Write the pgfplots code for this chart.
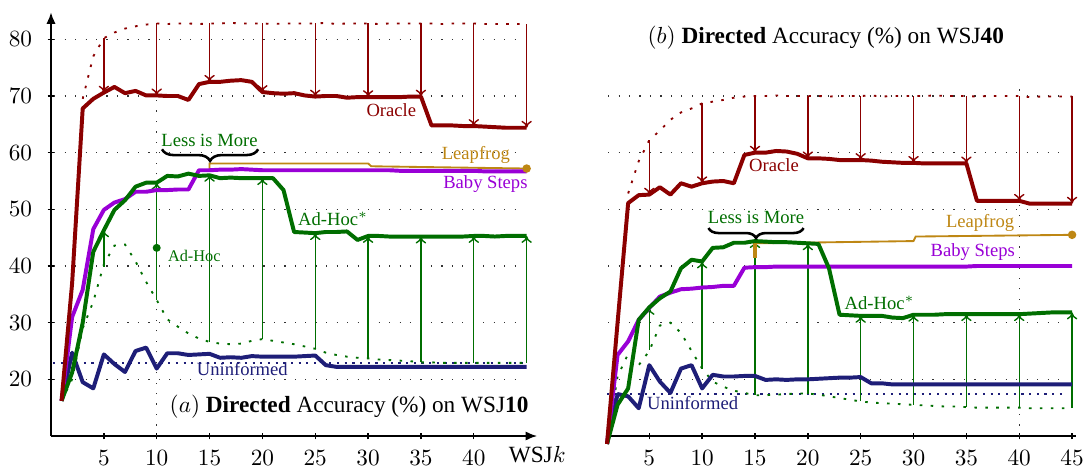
\documentclass[border=0pt]{standalone}
\usepackage{pgfplots}
\pgfplotsset{compat=1.18}
\usepackage{fontspec}
\setmainfont{Liberation Serif}
\usetikzlibrary{decorations.pathreplacing,arrows.meta}

\definecolor{orc}{RGB}{139,0,0}
\definecolor{bab}{RGB}{153,0,214}
\definecolor{adh}{RGB}{0,110,0}
\definecolor{uni}{RGB}{30,30,120}
\definecolor{lea}{RGB}{190,135,20}

\tikzset{
  gridl/.style={black!80, line width=0.5pt, dash pattern=on 0.5pt off 4pt},
  thk/.style={line width=1.7pt, line join=round},
  odot/.style={orc, line width=0.8pt, dash pattern=on 1.1pt off 3.6pt},
  gdot/.style={adh, line width=0.8pt, dash pattern=on 1.1pt off 3.6pt},
  bdot/.style={uni, line width=0.7pt, dash pattern=on 0.9pt off 2.4pt},
  arr/.style={line width=0.6pt, -{To[length=3pt,width=4.5pt]}},
  lab/.style={font=\footnotesize},
}

\pgfplotsset{
  common/.style={
    x=4.545pt, y=2.4367pt, ymin=10, ymax=84.8,
    clip=false, no markers,
    tick align=inside, major tick length=3pt,
    tick style={black, line width=0.6pt},
    xticklabel style={yshift=-1.0pt},
    yticklabel style={xshift=-3.1pt},
  }
}

\begin{document}
\begin{tikzpicture}
\path[use as bounding box] (-21.93pt,-13.76pt) rectangle (444.19pt,187.48pt);

%================ (a) WSJ10 ================
\begin{axis}[common,
  xmin=0, xmax=46,
  axis lines=left,
  axis line style={line width=0.9pt, -{Latex[length=5pt,width=4pt]}},
  xtick={5,10,...,40}, ytick={20,30,...,80},
  extra x ticks={46}, extra x tick labels={WSJ$k$},
  extra x tick style={major tick length=0pt},
]
\pgfplotsinvokeforeach{20,30,40,50,60,70,80}{\addplot[gridl] coordinates {(0.3,#1) (44.4,#1)};}
\addplot[gridl] coordinates {(10,10) (10,83.4)};
\addplot[bdot] coordinates {(0.2,22.9) (45,22.9)};

% Oracle upper bound (dotted)
\addplot[odot] coordinates {(3,69.5)(4,77.0)(5,80.2)(6,81.2)(7,81.9)(8,82.3)(9,82.6)(10,82.8)(11,82.7)(12,82.8)(13,82.8)(14,82.7)(15,82.8)(16,82.8)(17,82.9)(18,82.8)(19,82.8)(20,82.8)(21,82.7)(22,82.8)(23,82.8)(24,82.8)(25,82.8)(26,82.9)(27,82.7)(28,82.8)(29,82.8)(30,82.8)(31,82.7)(32,82.8)(33,82.8)(34,82.8)(35,82.8)(36,82.8)(37,82.7)(38,82.8)(39,82.8)(40,82.8)(41,82.7)(42,82.7)(43,82.7)(44,82.7)(45,82.7)};
% Ad-Hoc (dotted)
\addplot[gdot] coordinates {(1,16.2)(2,20.0)(3,29.0)(4,33.7)(5,40.3)(6,43.6)(7,43.8)(8,40.8)(9,37.2)(10,34.0)(11,30.6)(12,29.3)(13,28.1)(14,27.2)(15,26.6)(16,26.3)(17,26.2)(18,26.3)(19,26.8)(20,27.1)(21,26.8)(22,26.5)(23,26.2)(24,25.8)(25,25.4)(26,24.7)(27,24.3)(28,24.0)(29,23.8)(30,23.7)(31,23.5)(32,23.4)(33,23.3)(34,23.2)(35,23.0)(36,23.0)(37,22.9)(38,22.9)(39,22.9)(40,22.9)(41,22.9)(42,22.9)(43,22.9)(44,22.9)(45,22.9)};

% arrows
\addplot[orc, arr, quiver={u=0, v=\thisrow{y1}-\thisrow{y0}}] table[x=x, y=y0] {
x y0 y1
5 80.2 70.6
10 82.8 70.1
15 82.8 72.5
20 82.8 70.7
25 82.8 69.9
30 82.8 69.8
35 82.8 69.9
40 82.8 64.7
45 82.7 64.4
};
\addplot[adh, arr, quiver={u=0, v=\thisrow{y1}-\thisrow{y0}}] table[x=x, y=y0] {
x y0 y1
5 39.9 46.3
10 34.0 54.7
15 26.6 56.1
20 27.1 55.5
25 25.4 45.8
30 23.7 45.3
35 23.0 45.2
40 22.9 45.3
45 22.9 45.3
};

% Leapfrog
\addplot[lea, line width=0.8pt] coordinates {(15,56.9)(15,58.1)(30,58.1)(30.3,57.6)(45,57.2)};
\addplot[lea, only marks, mark=o, mark size=1.4pt, line width=0.8pt] coordinates {(45,57.2)};

% Uninformed
\addplot[uni, thk] coordinates {(1,16.2)(2,24.7)(3,19.5)(4,18.4)(5,24.4)(6,22.7)(7,21.3)(8,25.0)(9,25.6)(10,21.9)(11,24.6)(12,24.6)(13,24.3)(14,24.4)(15,24.5)(16,23.8)(17,23.9)(18,23.8)(19,24.1)(20,24.0)(21,24.0)(22,24.0)(23,24.0)(24,24.1)(25,24.2)(26,22.5)(27,22.2)(28,22.2)(29,22.2)(30,22.2)(31,22.2)(32,22.2)(33,22.2)(34,22.2)(35,22.2)(36,22.2)(37,22.2)(38,22.2)(39,22.2)(40,22.2)(41,22.2)(42,22.2)(43,22.2)(44,22.2)(45,22.2)};
% Baby Steps
\addplot[bab, thk] coordinates {(1,16.2)(2,31.0)(3,35.8)(4,46.5)(5,49.9)(6,51.2)(7,51.8)(8,53.1)(9,53.1)(10,53.4)(11,53.4)(12,53.5)(13,53.5)(14,56.9)(15,56.9)(16,57.0)(17,57.0)(18,57.1)(19,57.0)(20,56.9)(21,56.9)(22,56.9)(23,56.9)(24,56.9)(25,56.9)(26,56.9)(27,56.9)(28,56.9)(29,56.9)(30,56.9)(31,56.9)(32,56.9)(33,56.8)(34,56.8)(35,56.8)(36,56.8)(37,56.8)(38,56.8)(39,56.8)(40,56.8)(41,56.7)(42,56.7)(43,56.7)(44,56.7)(45,56.7)};
% Ad-Hoc*
\addplot[adh, thk] coordinates {(1,16.2)(2,21.2)(3,30.0)(4,42.5)(5,46.3)(6,49.9)(7,51.6)(8,54.0)(9,54.7)(10,54.7)(11,55.9)(12,55.8)(13,56.3)(14,55.9)(15,56.0)(16,55.5)(17,55.6)(18,55.5)(19,55.5)(20,55.5)(21,55.5)(22,53.4)(23,46.0)(24,45.9)(25,45.8)(26,46.0)(27,46.0)(28,46.1)(29,44.6)(30,45.3)(31,45.3)(32,45.2)(33,45.2)(34,45.2)(35,45.2)(36,45.2)(37,45.2)(38,45.2)(39,45.2)(40,45.3)(41,45.3)(42,45.2)(43,45.3)(44,45.3)(45,45.3)};
% Oracle
\addplot[orc, thk] coordinates {(1,16.2)(2,37.0)(3,67.8)(4,69.5)(5,70.6)(6,71.6)(7,70.5)(8,70.9)(9,70.1)(10,70.1)(11,70.0)(12,70.0)(13,69.3)(14,72.1)(15,72.5)(16,72.5)(17,72.7)(18,72.8)(19,72.5)(20,70.7)(21,70.5)(22,70.4)(23,70.5)(24,70.1)(25,69.9)(26,70.0)(27,70.0)(28,69.7)(29,69.8)(30,69.8)(31,69.8)(32,69.8)(33,69.8)(34,69.9)(35,69.9)(36,64.8)(37,64.8)(38,64.8)(39,64.7)(40,64.7)(41,64.6)(42,64.5)(43,64.4)(44,64.4)(45,64.4)};

% Ad-Hoc point
\addplot[adh, only marks, mark=*, mark size=1.5pt] coordinates {(10,43.2)};
\node[adh, font=\scriptsize, anchor=west] at (axis cs:10.3,41.8) {Ad-Hoc};

% brace
\draw[decorate, decoration={brace, amplitude=5pt}, line width=1.1pt] (axis cs:19.6,60.6) -- (axis cs:10.5,60.6);

\node[lab, text=orc] at (axis cs:32.2,67.5) {Oracle};
\node[lab, text=adh] at (axis cs:15.0,62.2) {Less is More};
\node[lab, text=lea] at (axis cs:40.2,59.6) {Leapfrog};
\node[lab, text=bab] at (axis cs:41.1,54.5) {Baby Steps};
\node[lab, text=adh] at (axis cs:26.7,48.3) {Ad-Hoc$^*$};
\node[lab, text=uni] at (axis cs:18.1,21.8) {Uninformed};
\node at (axis cs:28.2,15.2) {$(a)$ \textbf{Directed} Accuracy (\%) on WSJ\textbf{10}};
\end{axis}

%================ (b) WSJ40 ================
\begin{axis}[common,
  at={(239.08pt,0pt)}, anchor=south west,
  xmin=1, xmax=45.35,
  axis x line=bottom, axis y line=none,
  x axis line style={line width=0.9pt, -},
  xtick={5,10,...,45}, ytick=\empty,
]
\pgfplotsinvokeforeach{20,30,40,50,60,70}{\addplot[gridl] coordinates {(1.1,#1) (44.2,#1)};}
\addplot[gridl] coordinates {(40,10) (40,71.2)};
\addplot[bdot] coordinates {(1,17.4) (44.4,17.4)};

\addplot[odot] coordinates {(3,52.8)(4,58.5)(5,62.2)(6,63.9)(7,65.8)(8,67.1)(9,67.8)(10,68.7)(11,69.0)(12,69.3)(13,69.7)(14,69.9)(15,70.0)(16,70.0)(17,70.1)(18,70.0)(19,70.0)(20,70.0)(21,70.0)(22,69.9)(23,70.0)(24,70.0)(25,70.0)(26,70.1)(27,69.9)(28,70.0)(29,70.0)(30,70.0)(31,70.0)(32,70.1)(33,70.0)(34,70.0)(35,70.0)(36,69.9)(37,70.0)(38,70.0)(39,70.0)(40,70.0)(41,69.8)(42,69.9)(43,69.9)(44,69.9)(45,69.9)};
\addplot[gdot] coordinates {(1,8.6)(2,20.5)(3,24.5)(4,22.5)(5,25.0)(6,29.5)(7,30.0)(8,28.2)(9,25.0)(10,21.9)(11,19.6)(12,18.7)(13,18.0)(14,17.6)(15,17.2)(16,17.2)(17,17.3)(18,17.4)(19,17.5)(20,17.5)(21,17.3)(22,17.0)(23,16.7)(24,16.4)(25,16.1)(26,15.9)(27,15.8)(28,15.7)(29,15.6)(30,15.5)(31,15.4)(32,15.3)(33,15.2)(34,15.2)(35,15.1)(36,15.0)(37,15.0)(38,15.0)(39,15.0)(40,15.0)(41,14.9)(42,14.9)(43,14.9)(44,14.9)(45,14.9)};

\addplot[orc, arr, quiver={u=0, v=\thisrow{y1}-\thisrow{y0}}] table[x=x, y=y0] {
x y0 y1
5 62.2 52.6
10 68.7 54.6
15 70.0 60.0
20 70.0 59.0
25 70.0 58.7
30 70.0 58.2
35 70.0 58.1
40 70.0 51.5
45 70.0 51.0
};
\addplot[adh, arr, quiver={u=0, v=\thisrow{y1}-\thisrow{y0}}] table[x=x, y=y0] {
x y0 y1
5 25.2 32.6
10 21.9 40.8
15 17.2 44.4
20 17.5 44.0
25 16.1 31.2
30 15.5 31.4
35 15.1 31.5
40 15.0 31.5
45 14.9 31.8
};

\addplot[lea, line width=1.4pt] coordinates {(15,41.4)(15,44.0)};
\addplot[lea, line width=0.8pt] coordinates {(15,44.0)(30,44.4)(30.2,45.2)(45,45.5)};
\addplot[lea, only marks, mark=o, mark size=1.4pt, line width=0.8pt] coordinates {(45,45.5)};

\addplot[uni, thk] coordinates {(1,8.6)(2,17.4)(3,17.0)(4,14.9)(5,22.5)(6,19.6)(7,17.6)(8,21.9)(9,22.5)(10,18.4)(11,20.8)(12,20.5)(13,20.5)(14,20.6)(15,20.6)(16,19.9)(17,20.0)(18,19.9)(19,20.0)(20,20.0)(21,20.1)(22,20.2)(23,20.3)(24,20.3)(25,20.4)(26,19.3)(27,19.3)(28,19.1)(29,19.1)(30,19.1)(31,19.1)(32,19.1)(33,19.1)(34,19.1)(35,19.1)(36,19.1)(37,19.1)(38,19.1)(39,19.1)(40,19.1)(41,19.1)(42,19.1)(43,19.1)(44,19.1)(45,19.1)};
\addplot[bab, thk] coordinates {(1,8.6)(2,24.3)(3,26.7)(4,30.5)(5,32.6)(6,34.6)(7,35.3)(8,35.9)(9,36.0)(10,36.2)(11,36.3)(12,36.5)(13,36.5)(14,39.7)(15,39.8)(16,39.8)(17,39.9)(18,39.9)(19,39.9)(20,39.9)(21,39.9)(22,39.9)(23,39.9)(24,39.9)(25,39.9)(26,39.9)(27,39.9)(28,39.9)(29,39.9)(30,39.9)(31,39.9)(32,39.9)(33,39.9)(34,39.9)(35,39.9)(36,40.0)(37,40.0)(38,40.0)(39,40.0)(40,40.0)(41,40.0)(42,40.0)(43,40.0)(44,40.0)(45,40.0)};
\addplot[adh, thk] coordinates {(1,8.6)(2,15.5)(3,18.4)(4,30.5)(5,32.7)(6,34.3)(7,35.5)(8,39.6)(9,41.1)(10,40.8)(11,43.2)(12,43.3)(13,44.1)(14,44.1)(15,44.4)(16,44.3)(17,44.2)(18,44.2)(19,44.1)(20,44.0)(21,43.9)(22,39.6)(23,31.4)(24,31.3)(25,31.2)(26,31.2)(27,31.2)(28,30.9)(29,30.8)(30,31.4)(31,31.4)(32,31.4)(33,31.5)(34,31.5)(35,31.5)(36,31.5)(37,31.5)(38,31.5)(39,31.5)(40,31.5)(41,31.6)(42,31.7)(43,31.8)(44,31.8)(45,31.8)};
\addplot[orc, thk] coordinates {(1,8.6)(2,30.0)(3,51.1)(4,52.5)(5,52.6)(6,53.9)(7,52.6)(8,54.6)(9,54.0)(10,54.6)(11,54.9)(12,55.0)(13,54.6)(14,59.6)(15,60.0)(16,60.0)(17,60.3)(18,60.2)(19,59.8)(20,59.0)(21,59.0)(22,58.9)(23,58.7)(24,58.7)(25,58.7)(26,58.6)(27,58.4)(28,58.3)(29,58.2)(30,58.2)(31,58.1)(32,58.1)(33,58.1)(34,58.1)(35,58.1)(36,51.5)(37,51.5)(38,51.5)(39,51.5)(40,51.5)(41,51.0)(42,51.0)(43,51.0)(44,51.0)(45,51.0)};

\draw[decorate, decoration={brace, amplitude=4.3pt}, line width=1.1pt] (axis cs:19.6,46.7) -- (axis cs:10.6,46.7);

\node[lab, text=orc] at (axis cs:16.8,57.8) {Oracle};
\node[lab, text=adh] at (axis cs:15.1,48.6) {Less is More};
\node[lab, text=lea] at (axis cs:36.3,47.6) {Leapfrog};
\node[lab, text=bab] at (axis cs:35.6,42.5) {Baby Steps};
\node[lab, text=adh] at (axis cs:26.8,33.5) {Ad-Hoc$^*$};
\node[lab, text=uni] at (axis cs:9.1,15.8) {Uninformed};
\node at (axis cs:21.7,80.3) {$(b)$ \textbf{Directed} Accuracy (\%) on WSJ\textbf{40}};
\end{axis}
\end{tikzpicture}
\end{document}
